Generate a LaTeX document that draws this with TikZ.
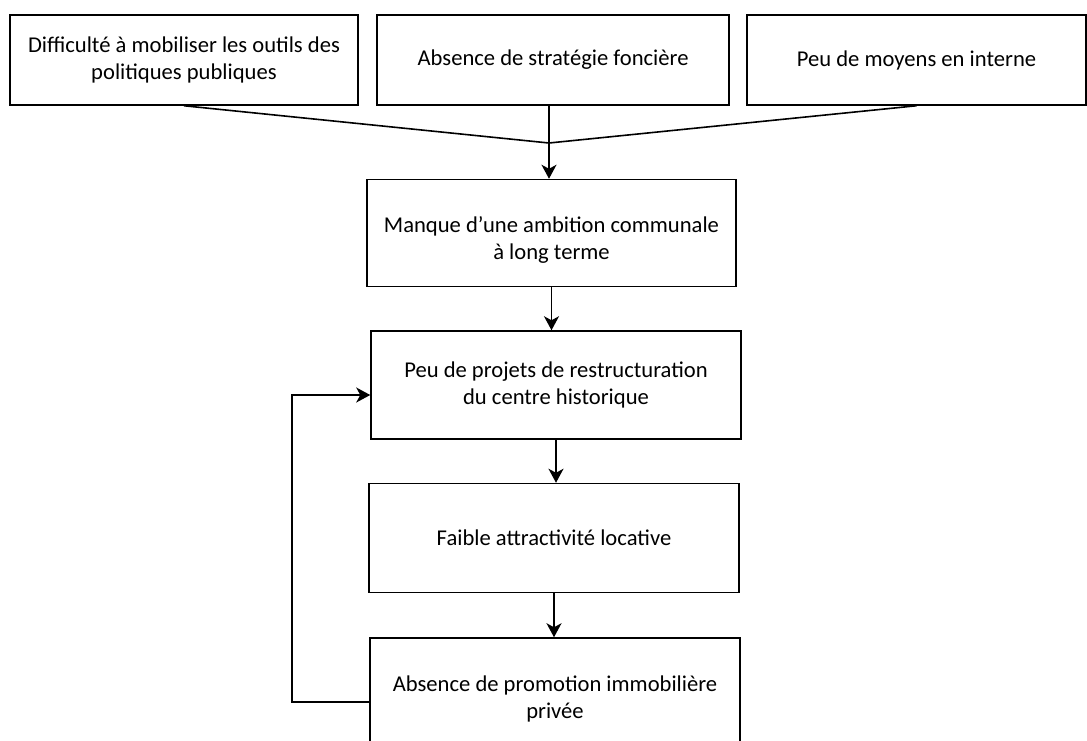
\documentclass[tikz,border=0pt]{standalone}
\usepackage{fontspec}
\setmainfont{Carlito}
\usetikzlibrary{arrows.meta}
\begin{document}
\begin{tikzpicture}[x=1pt,y=-1pt,
  boxtext/.style={align=center,inner sep=0pt,font=\fontsize{22.6}{27}\selectfont},
  box/.style={draw,line width=1.5pt,rectangle,boxtext},
  conn/.style={line width=1.6pt},
  arr/.style={conn,-{Stealth[length=14pt,width=15pt,inset=4pt]}}]
\useasboundingbox (0,0) rectangle (1087,740);
\begin{scope}
\clip (0,0) rectangle (1087,740);
\node[box,minimum width=348,minimum height=90] (b1) at (184,60) {Difficulté à mobiliser les outils des\\politiques publiques};
\node[box,minimum width=352,minimum height=90] (b2) at (553,60) {Absence de stratégie foncière};
\node[box,minimum width=339,minimum height=90] (b3) at (916.5,60) {Peu de moyens en interne};
\node[box,minimum width=369,minimum height=107,
  label={[boxtext,yshift=-7pt]center:Manque d’une ambition communale\\à long terme}] (b4) at (551.5,233) {};
\node[box,minimum width=370,minimum height=108] (b5) at (556,385) {Peu de projets de restructuration\\du centre historique};
\node[box,minimum width=370,minimum height=109] (b6) at (554,538) {Faible attractivité locative};
\node[box,minimum width=370,minimum height=108,
  label={[boxtext,yshift=-7pt]center:Absence de promotion immobilière\\privée}] (b7) at (555,692) {};
\end{scope}
\coordinate (j) at (549,143);
\draw[conn] (b1.south) -- (j) -- (b3.south);
\draw[arr] (j |- b2.south) -- (j |- b4.north);
\draw[arr] (b4.south) -- (b4.south |- b5.north);
\draw[arr] (b5.south) -- (b5.south |- b6.north);
\draw[arr] (b6.south) -- (b6.south |- b7.north);
\draw[arr] ([yshift=-10pt]b7.west) -- ++(-77,0) |- ([yshift=-10pt]b5.west);
\end{tikzpicture}
\end{document}
